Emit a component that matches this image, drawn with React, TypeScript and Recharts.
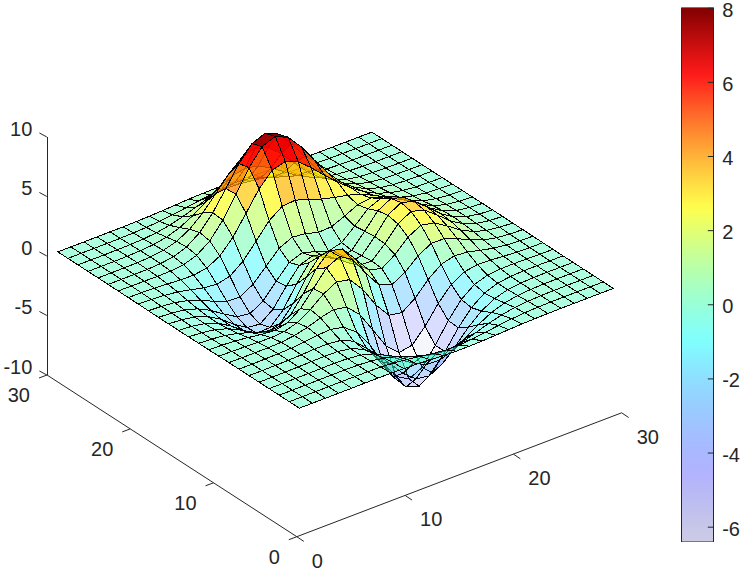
import React from "react";
import { Bar, ComposedChart, Scatter, XAxis, YAxis } from "recharts";

// surface heights, one row per y node, one column per x node
const zRows: number[][] = [
  [0,0,0,0,0,.01,.01,0,-.03,-.07,-.13,-.19,-.24,-.24,-.22,-.16,-.11,-.06,-.03,-.01,0,0,0,0,0],
  [0,0,0,0,.01,.01,0,-.02,-.1,-.22,-.39,-.56,-.68,-.69,-.61,-.46,-.3,-.17,-.08,-.03,-.01,0,0,0,0],
  [0,0,0,.01,.02,.02,0,-.07,-.24,-.53,-.92,-1.31,-1.57,-1.6,-1.41,-1.06,-.69,-.39,-.18,-.08,-.03,-.01,0,0,0],
  [0,0,.01,.01,.03,.04,.01,-.12,-.43,-.98,-1.73,-2.48,-3,-3.08,-2.7,-2.04,-1.32,-.73,-.34,-.14,-.05,-.01,0,0,0],
  [0,0,.01,.02,.05,.07,.05,-.13,-.59,-1.45,-2.64,-3.88,-4.76,-4.93,-4.35,-3.27,-2.1,-1.15,-.53,-.2,-.06,-.01,0,0,0],
  [0,0,.01,.03,.07,.13,.15,.02,-.46,-1.48,-3.01,-4.7,-5.98,-6.33,-5.64,-4.25,-2.69,-1.42,-.61,-.2,-.05,0,.01,0,0],
  [0,0,.01,.03,.08,.19,.33,.4,.16,-.66,-2.16,-4.04,-5.65,-6.29,-5.74,-4.3,-2.63,-1.27,-.44,-.07,.04,.05,.03,.01,0],
  [0,-.01,-.01,-.01,.03,.17,.44,.83,1.1,.88,-.15,-1.86,-3.62,-4.61,-4.41,-3.23,-1.74,-.56,.08,.27,.23,.13,.06,.02,.01],
  [-.01,-.03,-.06,-.1,-.13,-.04,.3,.98,1.86,2.46,2.23,.99,-.73,-2.02,-2.22,-1.43,-.27,.58,.88,.77,.5,.26,.11,.04,.01],
  [-.02,-.05,-.12,-.25,-.42,-.51,-.28,.49,1.78,3.09,3.63,2.94,1.39,-.01,-.42,.2,1.17,1.79,1.77,1.35,.82,.41,.17,.06,.02],
  [-.02,-.08,-.2,-.44,-.8,-1.16,-1.21,-.6,.8,2.49,3.56,3.3,2,.7,.39,1.14,2.2,2.77,2.55,1.87,1.12,.56,.24,.09,.02],
  [-.03,-.1,-.27,-.6,-1.14,-1.77,-2.16,-1.84,-.56,1.23,2.56,2.63,1.59,.53,.48,1.5,2.75,3.38,3.08,2.24,1.34,.66,.28,.1,.03],
  [-.03,-.11,-.3,-.69,-1.33,-2.14,-2.77,-2.72,-1.65,.07,1.48,1.75,.98,.19,.38,1.57,2.93,3.59,3.26,2.37,1.41,.7,.3,.11,.03],
  [-.03,-.11,-.29,-.67,-1.32,-2.15,-2.86,-2.98,-2.14,-.64,.69,1.06,.52,-.03,.28,1.47,2.76,3.37,3.05,2.21,1.32,.65,.27,.1,.03],
  [-.03,-.09,-.25,-.57,-1.12,-1.85,-2.49,-2.65,-2,-.76,.39,.79,.46,.09,.38,1.35,2.38,2.84,2.55,1.84,1.09,.54,.23,.08,.02],
  [-.02,-.07,-.18,-.42,-.81,-1.33,-1.76,-1.79,-1.16,-.05,1.04,1.55,1.42,1.12,1.17,1.65,2.17,2.33,1.99,1.4,.82,.4,.17,.06,.02],
  [-.01,-.04,-.11,-.25,-.48,-.74,-.86,-.6,.23,1.51,2.8,3.59,3.69,3.34,2.94,2.67,2.43,2.09,1.58,1.03,.58,.28,.11,.04,.01],
  [-.01,-.02,-.06,-.12,-.2,-.22,-.05,.55,1.7,3.3,4.93,6.08,6.4,5.95,5.03,3.98,2.98,2.1,1.35,.79,.41,.19,.07,.03,.01],
  [0,-.01,-.02,-.03,-.01,.11,.48,1.27,2.6,4.36,6.17,7.51,7.96,7.45,6.23,4.7,3.24,2.05,1.18,.62,.29,.12,.05,.02,0],
  [0,0,0,.01,.07,.24,.64,1.43,2.67,4.29,5.96,7.22,7.67,7.19,5.99,4.45,2.96,1.78,.96,.47,.21,.08,.03,.01,0],
  [0,0,.01,.02,.08,.23,.55,1.16,2.1,3.31,4.56,5.51,5.86,5.5,4.57,3.37,2.21,1.3,.67,.32,.13,.05,.02,0,0],
  [0,0,0,.02,.06,.15,.36,.74,1.32,2.06,2.82,3.41,3.63,3.41,2.83,2.08,1.35,.79,.4,.19,.08,.03,.01,0,0],
  [0,0,0,.01,.03,.08,.19,.39,.69,1.07,1.47,1.77,1.89,1.77,1.47,1.08,.7,.4,.2,.09,.04,.01,.01,0,0],
  [0,0,0,0,.01,.04,.09,.17,.3,.47,.64,.77,.82,.77,.64,.47,.3,.17,.09,.04,.02,.01,0,0,0],
  [0,0,0,0,.01,.01,.03,.06,.11,.17,.23,.27,.29,.27,.23,.17,.11,.06,.03,.01,.01,0,0,0,0],
];

const xTicks = [0, 10, 20, 30];
const yTicks = [0, 10, 20, 30];
const zTicks = [-10, -5, 0, 5, 10];
const colorTicks = [-6, -4, -2, 0, 2, 4, 6, 8];

const W = 740;
const H = 571;
const Z_MIN = -6.4;
const Z_MAX = 8.02;
const GRID_START = 1;
const GRID_STEP = 29 / 24;
const INK = "#262626";
const FONT = "'Liberation Sans', Arial, sans-serif";

// orthographic view, pixels per data unit
const project = (x: number, y: number, z: number) => ({
  px: 296.7 + 10.83 * x - 8.33 * y,
  h: H - (536.7 - 4.13 * x - 5.39 * y - 11.9 * (z + 10)),
});

const ramp = (t: number, a: number, b: number) => Math.min(1, Math.max(0, (t - a) / (b - a)));

// jet
const jet = (t: number) => {
  const r = t < 0.875 ? ramp(t, 0.375, 0.625) : 1 - 0.5 * ramp(t, 0.875, 1);
  const g = ramp(t, 0.125, 0.375) * (1 - ramp(t, 0.625, 0.875));
  const b = t < 0.125 ? 0.5 + 0.5 * ramp(t, 0, 0.125) : 1 - ramp(t, 0.375, 0.625);
  const c = (v: number) => Math.round(v * 255);
  return `rgb(${c(r)},${c(g)},${c(b)})`;
};

const LEVELS = 64;
const levelT = (z: number) => {
  const k = Math.min(LEVELS - 1, Math.floor(((z - Z_MIN) / (Z_MAX - Z_MIN)) * LEVELS));
  return (Math.max(0, k) + 0.5) / LEVELS;
};

const node = (i: number, j: number) =>
  project(GRID_START + GRID_STEP * i, GRID_START + GRID_STEP * j, zRows[j][i]);

// cells from back to front so the transparency stacks right
const cells: any[] = [];
for (let j = zRows.length - 2; j >= 0; j--) {
  for (let i = zRows[j].length - 2; i >= 0; i--) {
    const a = node(i, j);
    const corners = [a, node(i + 1, j), node(i + 1, j + 1), node(i, j + 1)];
    const t = levelT(zRows[j][i]);
    cells.push({
      ...a,
      offsets: corners.map((p) => [p.px - a.px, a.h - p.h]),
      fill: jet(t),
      alpha: t,
    });
  }
}

const CellShape = (props: any) => {
  const { cx, cy, payload } = props;
  const d = payload.offsets.map((o: number[]) => `${cx + o[0]},${cy + o[1]}`).join(" ");
  return (
    <polygon
      points={d}
      fill={payload.fill}
      fillOpacity={payload.alpha}
      stroke="#000"
      strokeWidth={1}
      shapeRendering="crispEdges"
    />
  );
};

const xAxisLine = xTicks.map((t) => ({ ...project(t, 0, -10), label: String(t) }));
const yAxisLine = yTicks.map((t) => ({ ...project(0, t, -10), label: String(t) }));
const zAxisLine = [project(0, 30, -10), project(0, 30, 10)];
const zAxisX = zAxisLine[0].px;

const Label = ({ x, y, anchor, children }: any) => (
  <text x={x} y={y + 7} textAnchor={anchor} fontSize={20} fontFamily={FONT} fill={INK}>
    {children}
  </text>
);

const XTick = ({ cx, cy, payload }: any) => (
  <g>
    <line x1={cx} y1={cy} x2={cx + 7} y2={cy + 4.7} stroke={INK} strokeWidth={1} />
    <Label x={cx + 15} y={cy + 24} anchor="start">{payload.label}</Label>
  </g>
);

const YTick = ({ cx, cy, payload }: any) => (
  <g>
    <line x1={cx} y1={cy} x2={cx - 8} y2={cy + 3} stroke={INK} strokeWidth={1} />
    <Label x={cx - 17} y={cy + 20} anchor="end">{payload.label}</Label>
  </g>
);

const ZTick = ({ y, payload }: any) => (
  <g>
    <line x1={zAxisX} y1={y} x2={zAxisX - 7.4} y2={y - 4} stroke={INK} strokeWidth={1} />
    <Label x={zAxisX - 14.5} y={y - 8} anchor="end">{payload.value}</Label>
  </g>
);

const ColorTick = ({ x, y, payload }: any) => (
  <g>
    <line x1={x - 5.7} y1={y} x2={x} y2={y} stroke={INK} strokeWidth={1} />
    <Label x={x + 8.7} y={y + 1.5} anchor="start">{payload.value}</Label>
  </g>
);

const noDot = () => <g />;

const colorStops = Array.from({ length: LEVELS }, (_, k) => LEVELS - 1 - k);
const colorBarData = [{ name: "c", range: [Z_MIN, Z_MAX] }];

export default function App() {
  return (
    <div style={{ position: "absolute", left: 0, top: 0, width: W, height: H, background: "#fff" }}>
      <ComposedChart width={W} height={H} margin={{ top: 0, right: 0, bottom: 0, left: 0 }}>
        <XAxis type="number" dataKey="px" domain={[47, W]} hide />
        <YAxis yAxisId="screen" type="number" dataKey="h" domain={[0, H]} hide />
        {/* scale set so that 10 and -10 land at the ends of the z axis line */}
        <YAxis
          yAxisId="z"
          type="number"
          width={47}
          domain={[-26.47, 21.51]}
          allowDataOverflow
          ticks={zTicks}
          interval={0}
          axisLine={false}
          tickLine={false}
          tickSize={0}
          tickMargin={0}
          tick={<ZTick />}
        />
        <Scatter yAxisId="screen" data={zAxisLine} line={{ stroke: INK, strokeWidth: 1, shapeRendering: "crispEdges" }} shape={noDot} isAnimationActive={false} />
        <Scatter yAxisId="screen" data={xAxisLine} line={{ stroke: INK, strokeWidth: 1 }} shape={<XTick />} isAnimationActive={false} />
        <Scatter yAxisId="screen" data={yAxisLine} line={{ stroke: INK, strokeWidth: 1 }} shape={<YTick />} isAnimationActive={false} />
        <Scatter yAxisId="screen" data={cells} shape={<CellShape />} isAnimationActive={false} />
      </ComposedChart>

      <div style={{ position: "absolute", left: 680, top: 0 }}>
        <ComposedChart
          width={60}
          height={H}
          data={colorBarData}
          barCategoryGap={0}
          margin={{ top: 7.5, right: 0, bottom: 29, left: 1.5 }}
        >
          <defs>
            <linearGradient id="colorBar" x1="0" y1="0" x2="0" y2="1">
              {colorStops.map((k, n) => {
                const t = (k + 0.5) / LEVELS;
                return <stop key={k} offset={(n + 0.5) / LEVELS} stopColor={jet(t)} stopOpacity={0.2 + 0.8 * t} />;
              })}
            </linearGradient>
          </defs>
          <XAxis dataKey="name" hide />
          <YAxis
            orientation="right"
            type="number"
            width={26.5}
            domain={[Z_MIN, Z_MAX]}
            allowDataOverflow
            ticks={colorTicks}
            interval={0}
            axisLine={false}
            tickLine={false}
            tickSize={0}
            tickMargin={0}
            tick={<ColorTick />}
          />
          <Bar dataKey="range" fill="url(#colorBar)" stroke={INK} strokeWidth={1} isAnimationActive={false} />
        </ComposedChart>
      </div>
    </div>
  );
}
